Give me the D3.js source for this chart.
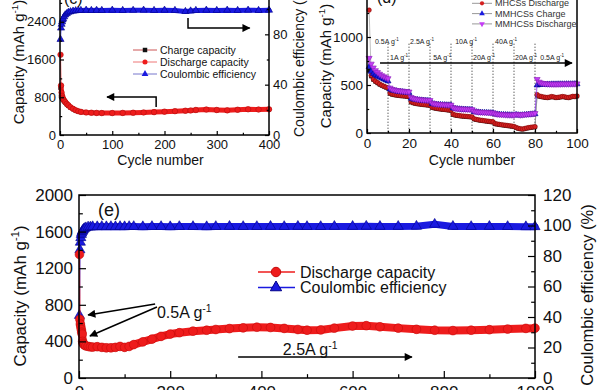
<!DOCTYPE html>
<html>
<head>
<meta charset="utf-8">
<script src="https://cdn.jsdelivr.net/npm/d3@7"></script>
<style>
  body { margin: 0; background: #fff; }
  svg { display: block; font-family: "Liberation Sans", Arial, sans-serif; }
</style>
</head>
<body>
<svg id="fig" width="600" height="390"></svg>
<script>
// ---------- panel (c): long cycling, 400 cycles
const cCycles    = [1, 2, 3, 4, 5, 6, 8, 10, 13, 16, 20, 25, 30, 35, 40, 50, 60, 70, 80, 100, 120, 140, 160, 180, 200, 220, 240, 250, 260, 280, 300, 320, 340, 360, 380, 400];
const cDischarge = [1700, 1050, 900, 830, 790, 760, 730, 700, 660, 630, 590, 555, 525, 505, 490, 478, 472, 468, 465, 465, 468, 472, 478, 485, 495, 505, 515, 520, 530, 540, 530, 522, 535, 545, 540, 545];
const cCharge    = [1000, 820, 800, 780, 760, 740, 715, 690, 650, 620, 585, 550, 520, 500, 487, 475, 470, 466, 463, 463, 466, 470, 476, 483, 493, 503, 512, 517, 528, 538, 528, 520, 533, 543, 538, 543];
const cCE        = [76, 85, 88, 90, 91.5, 92.5, 94, 95.5, 96.5, 97.5, 98, 98.5, 98.8, 99, 99, 99.2, 99, 99.1, 99, 99.2, 99, 99.1, 99.2, 99, 99.2, 99, 98.2, 98.6, 99, 99.2, 99, 99.2, 99, 99.2, 99, 99.2];

// ---------- panel (d): rate test, 100 cycles
const dCycles = d3.range(1, 101);
const dMhcsCharge = [650, 590, 555, 535, 520, 505, 494, 484, 474, 464,
  410, 400, 396, 392, 389, 386, 384, 382, 379, 376,
  320, 312, 306, 302, 299, 296, 293, 291, 288, 286,
  264, 258, 254, 250, 247, 244, 242, 239, 236, 234,
  190, 184, 180, 177, 174, 172, 170, 168, 166, 164,
  144, 138, 134, 130, 127, 124, 121, 118, 115, 112,
  94, 90, 86, 83, 80, 77, 74, 71, 68, 64,
  54, 46, 41, 38, 42, 48, 52, 56, 59, 62,
  390, 380, 376, 372, 368, 366, 371, 376, 372, 366, 368, 372, 376, 374, 368, 366, 372, 378, 376, 382];
const dMhcsDischarge = [1280, 600, 560, 540, 525, 510, 498, 488, 478, 468,
  415, 405, 400, 396, 393, 390, 388, 386, 383, 380,
  325, 316, 310, 306, 303, 300, 297, 295, 292, 290,
  268, 262, 258, 254, 251, 248, 246, 243, 240, 238,
  195, 188, 184, 181, 178, 176, 174, 172, 170, 168,
  148, 142, 138, 134, 131, 128, 125, 122, 119, 116,
  98, 94, 90, 87, 84, 81, 78, 75, 72, 68,
  58, 50, 45, 42, 46, 52, 56, 60, 63, 66,
  400, 386, 380, 376, 372, 370, 375, 380, 376, 370, 372, 376, 380, 378, 372, 370, 376, 382, 380, 386];
const dMmhcsCharge = [690, 640, 618, 602, 590, 580, 570, 560, 550, 540,
  455, 445, 440, 436, 432, 429, 427, 424, 422, 420,
  360, 352, 348, 345, 342, 340, 338, 336, 335, 333,
  305, 300, 297, 295, 293, 292, 291, 290, 289, 288,
  258, 253, 250, 248, 246, 245, 244, 243, 242, 241,
  222, 218, 215, 213, 212, 211, 210, 209, 208, 207,
  198, 194, 192, 190, 189, 188, 187, 186, 186, 185,
  190, 186, 184, 186, 188, 190, 192, 194, 196, 198,
  498, 502, 504, 505, 505, 506, 506, 507, 507, 507, 508, 508, 508, 508, 509, 509, 509, 509, 510, 510];
const dMmhcsDischarge = [780, 720, 680, 652, 632, 615, 600, 588, 578, 568,
  470, 456, 450, 445, 441, 438, 436, 433, 431, 429,
  372, 362, 356, 352, 349, 347, 345, 343, 341, 340,
  312, 306, 302, 300, 298, 297, 295, 294, 293, 292,
  266, 259, 255, 253, 251, 250, 249, 248, 247, 246,
  228, 223, 220, 218, 216, 215, 214, 213, 212, 211,
  202, 198, 195, 193, 192, 191, 190, 189, 189, 188,
  196, 192, 189, 191, 194, 196, 198, 200, 202, 205,
  560, 532, 522, 517, 514, 512, 511, 511, 510, 510, 511, 511, 512, 512, 512, 512, 513, 513, 513, 514];
const rateBorders = [10, 20, 30, 40, 50, 60, 70, 80];
const rateLabels = ["0.5A g", "1A g", "2.5A g", "5A g", "10A g", "20A g", "40A g", "20A g", "0.5A g"];
const rateLabelCycle = [3.8, 11, 20.5, 31.5, 42, 50.5, 61, 70.5, 82.5];
const rateLabelRow = [0, 1, 0, 1, 0, 1, 0, 1, 1];

// ---------- panel (e): 1000 cycles at 2.5 A/g
const eCycles = [1, 2, 3, 4, 5, 6, 7, 8, 9, 10, 12, 15, 20, 25, 30, 40, 50, 60, 70, 80, 90, 100,
  110, 120, 140, 160, 180, 200, 220, 250, 280, 300, 330, 360, 390, 420, 450, 480, 500, 530, 560,
  600, 630, 660, 700, 740, 780, 820, 860, 900, 940, 980, 1000];
const eDischarge = [1350, 640, 590, 560, 530, 500, 480, 400, 380, 370, 360, 350, 345, 340, 338,
  342, 335, 330, 330, 335, 345, 335, 345, 365, 395, 425, 455, 480, 495, 512, 522, 530, 540, 548,
  555, 552, 542, 530, 522, 525, 545, 568, 572, 560, 545, 532, 522, 518, 522, 528, 535, 542, 545];
const eCE = [41, 84, 89, 92, 94, 95, 96, 96.5, 97, 97.5, 98, 98.5, 99, 99, 99.2, 99.2, 99.3, 99.2,
  99.3, 99.2, 99.3, 99.2, 99.3, 99.3, 99.2, 99.3, 99.3, 99.2, 99.3, 99.3, 99.2, 99.3, 99.4, 99.3,
  99.3, 99.4, 99.3, 99.4, 99.3, 99.3, 99.4, 99.4, 99.5, 99.4, 99.4, 99.5, 100.8, 99.4, 99.3, 99.4,
  99.3, 99.2, 99.2];

const FONT = '"Liberation Sans", Arial, sans-serif';
const RED = "#ee1c1c", RED_D = "#b50d0d";
const BLUE = "#1a1ae0", BLUE_D = "#00008a";
const MAG = "#c43cf5";
const svg = d3.select("#fig");

// scales
const cX = d3.scaleLinear().domain([0, 400]).range([60, 269]);
const cY = d3.scaleLinear().domain([0, 3200]).range([135, -16]);
const cY2 = d3.scaleLinear().domain([0, 120]).range([135, -16]);
const dX = d3.scaleLinear().domain([0, 100]).range([367, 577]);
const dY = d3.scaleLinear().domain([0, 1500]).range([133, -11]);
const eX = d3.scaleLinear().domain([0, 1000]).range([79, 535]);
const eY = d3.scaleLinear().domain([0, 2000]).range([378, 195]);
const eY2 = d3.scaleLinear().domain([0, 120]).range([378, 195]);

// arrow head
svg.append("defs").append("marker")
  .attr("id", "head").attr("viewBox", "0 0 10 10")
  .attr("refX", 9).attr("refY", 5)
  .attr("markerUnits", "userSpaceOnUse")
  .attr("markerWidth", 11).attr("markerHeight", 8)
  .attr("orient", "auto")
  .append("path").attr("d", "M0,0 L10,5 L0,10 z").attr("fill", "#000");

function addAxis(make, tr, major, minor, len, pad, fs) {
  const g = svg.append("g").attr("transform", tr)
    .call(make().tickValues(major).tickSize(-len).tickSizeOuter(0).tickPadding(pad)
      .tickFormat(d3.format("d")));
  g.select(".domain").remove();
  g.attr("font-size", fs).attr("font-family", FONT);
  g.selectAll("line").attr("stroke", "#000").attr("stroke-width", 1.2);
  g.selectAll("text").attr("fill", "#111");
  const m = svg.append("g").attr("transform", tr)
    .call(make().tickValues(minor).tickSize(-len * 0.55).tickSizeOuter(0).tickFormat(""));
  m.select(".domain").remove();
  m.selectAll("line").attr("stroke", "#000").attr("stroke-width", 1.2);
}

function frame(x, y) {
  const [l, r] = x.range(), [b, t] = y.range();
  svg.append("rect").attr("x", l).attr("y", t).attr("width", r - l).attr("height", b - t)
    .attr("fill", "none").attr("stroke", "#000").attr("stroke-width", 1.5);
}

// text with a superscript "-1"
function supText(sel, base, sup, after, fs) {
  sel.append("tspan").text(base);
  sel.append("tspan").attr("dy", -0.4 * fs).attr("font-size", 0.65 * fs).text(sup);
  if (after) sel.append("tspan").attr("dy", 0.4 * fs).text(after);
  return sel;
}

function vTitle(x, y, fs, parts) {
  const t = svg.append("text").attr("transform", `translate(${x},${y}) rotate(-90)`)
    .attr("text-anchor", "middle").attr("dy", "0.35em")
    .attr("font-size", fs).attr("fill", "#111");
  if (parts.length === 1) t.text(parts[0]); else supText(t, parts[0], parts[1], parts[2], fs);
  return t;
}

function band(xs, ys, x, y, color, width, from) {
  const pts = d3.zip(xs, ys).slice(from || 0);
  svg.append("path").datum(pts).attr("fill", "none").attr("stroke", color)
    .attr("stroke-width", width).attr("stroke-linejoin", "round").attr("stroke-linecap", "round")
    .attr("d", d3.line().x(d => x(d[0])).y(d => y(d[1])));
}

function thinLine(xs, ys, x, y, color, w, op) {
  svg.append("path").datum(d3.zip(xs, ys)).attr("fill", "none").attr("stroke", color)
    .attr("stroke-width", w).attr("stroke-opacity", op)
    .attr("d", d3.line().x(d => x(d[0])).y(d => y(d[1])));
}

function symbols(xs, ys, x, y, type, size, fill, stroke, rot) {
  svg.append("g").selectAll("path").data(d3.zip(xs, ys)).join("path")
    .attr("transform", d => `translate(${x(d[0])},${y(d[1])})` + (rot ? " rotate(180)" : ""))
    .attr("d", d3.symbol().type(type).size(size))
    .attr("fill", fill).attr("stroke", stroke).attr("stroke-width", 0.6);
}

function arrow(pts) {
  svg.append("path").attr("d", d3.line()(pts)).attr("fill", "none")
    .attr("stroke", "#000").attr("stroke-width", 1.5).attr("marker-end", "url(#head)");
}

// ================= panel (c) =================
thinLine(cCycles, cCE, cX, cY2, BLUE, 1, 0.8);
band(cCycles, cCE, cX, cY2, BLUE, 5, 2);
symbols(cCycles, cCE, cX, cY2, d3.symbolTriangle, 22, BLUE, BLUE_D);
thinLine(cCycles, cCharge, cX, cY, "#000", 1, 0.6);
symbols(cCycles, cCharge, cX, cY, d3.symbolSquare, 14, "#111", "#000");
thinLine(cCycles, cDischarge, cX, cY, RED, 1, 0.8);
band(cCycles, cDischarge, cX, cY, RED, 5, 1);
symbols(cCycles, cDischarge, cX, cY, d3.symbolCircle, 24, RED, RED_D);

frame(cX, cY);
addAxis(() => d3.axisBottom(cX), "translate(0,135)", [0, 100, 200, 300, 400], [50, 150, 250, 350], 4, 5, 13);
addAxis(() => d3.axisLeft(cY), "translate(60,0)", [0, 800, 1600, 2400], [400, 1200, 2000, 2800], 4, 4, 13);
addAxis(() => d3.axisRight(cY2), "translate(269,0)", [0, 40, 80], [20, 60, 100], 4, 4, 13);

svg.append("text").attr("x", cX(200) - 4).attr("y", 165).attr("text-anchor", "middle")
  .attr("font-size", 14).attr("fill", "#111").text("Cycle number");
vTitle(19, 62, 15, ["Capacity (mAh g", "-1", ")"]);
svg.append("text").attr("transform", "translate(299,137) rotate(-90)").attr("dy", "0.35em")
  .attr("font-size", 14).attr("fill", "#111").text("Coulombic efficiency (%)");
svg.append("text").attr("x", 64).attr("y", 4).attr("font-size", 16).attr("fill", "#111").text("(c)");

arrow([[cX(245), cY2(93)], [cX(245), cY2(85)], [cX(363), cY2(85)]]);
arrow([[cX(184), cY(593)], [cX(184), cY(805)], [cX(90), cY(805)]]);

const cLegend = [
  { label: "Charge capacity", type: d3.symbolSquare, fill: "#111", line: "#c55" },
  { label: "Discharge capacity", type: d3.symbolCircle, fill: RED, line: "#e77" },
  { label: "Coulombic efficiency", type: d3.symbolTriangle, fill: BLUE, line: "#77c" }
];
cLegend.forEach((d, i) => {
  const y = 50 + i * 12;
  svg.append("line").attr("x1", 133).attr("x2", 157).attr("y1", y).attr("y2", y)
    .attr("stroke", d.line).attr("stroke-width", 1);
  svg.append("path").attr("transform", `translate(145,${y})`)
    .attr("d", d3.symbol().type(d.type).size(20)).attr("fill", d.fill);
  svg.append("text").attr("x", 160).attr("y", y).attr("dy", "0.35em")
    .attr("font-size", 10.5).attr("fill", "#111").text(d.label);
});

// ================= panel (d) =================
svg.append("g").selectAll("line").data(rateBorders).join("line")
  .attr("x1", d => dX(d)).attr("x2", d => dX(d)).attr("y1", dY(930)).attr("y2", dY(0))
  .attr("stroke", "#222").attr("stroke-width", 1).attr("stroke-dasharray", "1,2");

thinLine(dCycles, dMhcsCharge, dX, dY, "#444", 0.8, 0.6);
symbols(dCycles, dMhcsCharge, dX, dY, d3.symbolSquare, 12, "#111", "#000");
thinLine(dCycles, dMhcsDischarge, dX, dY, "#999", 0.8, 0.8);
symbols(dCycles, dMhcsDischarge, dX, dY, d3.symbolCircle, 16, "#d42020", "#8a0a0a");
thinLine(dCycles, dMmhcsCharge, dX, dY, BLUE, 0.8, 0.6);
symbols(dCycles, dMmhcsCharge, dX, dY, d3.symbolTriangle, 16, BLUE, BLUE_D);
thinLine(dCycles, dMmhcsDischarge, dX, dY, MAG, 0.8, 0.6);
symbols(dCycles, dMmhcsDischarge, dX, dY, d3.symbolTriangle, 16, MAG, "#8a1fb8", true);

rateLabels.forEach((lab, i) => {
  const t = svg.append("text").attr("x", dX(rateLabelCycle[i])).attr("y", rateLabelRow[i] ? 60 : 44)
    .attr("font-size", 7).attr("fill", "#222");
  supText(t, lab, "-1", null, 7);
});
arrow([[dX(6.2), dY(729)], [dX(97.6), dY(729)]]);

frame(dX, dY);
addAxis(() => d3.axisBottom(dX), "translate(0,133)", [0, 20, 40, 60, 80, 100], [10, 30, 50, 70, 90], 4, 5, 13.5);
addAxis(() => d3.axisLeft(dY), "translate(367,0)", [0, 500, 1000], [250, 750, 1250], 4, 4, 13.5);
svg.append("text").attr("x", dX(50)).attr("y", 165).attr("text-anchor", "middle")
  .attr("font-size", 14).attr("fill", "#111").text("Cycle number");
vTitle(326, 66, 15, ["Capacity (mAh g", "-1", ")"]);
svg.append("text").attr("x", 377).attr("y", 3).attr("font-size", 16).attr("fill", "#111").text("(d)");

const dLegend = [
  { label: "MHCSs Charge", type: d3.symbolSquare, fill: "#111", rot: false },
  { label: "MHCSs Discharge", type: d3.symbolCircle, fill: "#d42020", rot: false },
  { label: "MMHCSs Charge", type: d3.symbolTriangle, fill: BLUE, rot: false },
  { label: "MMHCSs Discharge", type: d3.symbolTriangle, fill: MAG, rot: true }
];
dLegend.forEach((d, i) => {
  const y = -7 + i * 10.3;
  svg.append("line").attr("x1", 472).attr("x2", 492).attr("y1", y).attr("y2", y)
    .attr("stroke", "#999").attr("stroke-width", 1);
  svg.append("path").attr("transform", `translate(482,${y})` + (d.rot ? " rotate(180)" : ""))
    .attr("d", d3.symbol().type(d.type).size(14)).attr("fill", d.fill);
  svg.append("text").attr("x", 495).attr("y", y).attr("dy", "0.35em")
    .attr("font-size", 9).attr("fill", "#333").text(d.label);
});

// ================= panel (e) =================
thinLine(eCycles, eCE, eX, eY2, BLUE, 1.2, 0.9);
band(eCycles, eCE, eX, eY2, BLUE, 7, 3);
symbols(eCycles, eCE, eX, eY2, d3.symbolTriangle, 45, BLUE, BLUE_D);
thinLine(eCycles, eDischarge, eX, eY, RED, 1.2, 0.9);
band(eCycles, eDischarge, eX, eY, RED, 8, 1);
symbols(eCycles, eDischarge, eX, eY, d3.symbolCircle, 60, RED, "#c40a0a");

frame(eX, eY);
addAxis(() => d3.axisBottom(eX), "translate(0,378)", [0, 200, 400, 600, 800, 1000], [100, 300, 500, 700, 900], 7, 8, 17);
addAxis(() => d3.axisLeft(eY), "translate(79,0)", [0, 400, 800, 1200, 1600, 2000], [200, 600, 1000, 1400, 1800], 7, 6, 17);
addAxis(() => d3.axisRight(eY2), "translate(535,0)", [0, 20, 40, 60, 80, 100, 120], [10, 30, 50, 70, 90, 110], 7, 8, 17);
vTitle(20, 296, 17, ["Capacity (mAh g", "-1", ")"]);
vTitle(587, 295, 16.5, ["Coulombic efficiency (%)"]);
svg.append("text").attr("x", 98).attr("y", 216).attr("font-size", 18).attr("fill", "#111").text("(e)");

arrow([[eX(167), eY(809)], [eX(20), eY(689)]]);
arrow([[eX(171), eY(776)], [eX(24), eY(459)]]);
supText(svg.append("text").attr("x", eX(171)).attr("y", eY(656)).attr("font-size", 16).attr("fill", "#111"),
  "0.5A g", "-1", null, 16);
arrow([[eX(349), eY(230)], [eX(730), eY(230)]]);
supText(svg.append("text").attr("x", eX(447)).attr("y", eY(251)).attr("font-size", 16).attr("fill", "#111"),
  "2.5A g", "-1", null, 16);

const eLegend = [
  { label: "Discharge capacity", type: d3.symbolCircle, fill: RED, stroke: "#c40a0a", size: 70 },
  { label: "Coulombic efficiency", type: d3.symbolTriangle, fill: BLUE, stroke: BLUE_D, size: 55 }
];
eLegend.forEach((d, i) => {
  const y = 272 + i * 15.5;
  svg.append("line").attr("x1", 258).attr("x2", 295).attr("y1", y).attr("y2", y)
    .attr("stroke", d.fill).attr("stroke-width", 1.5);
  svg.append("path").attr("transform", `translate(276,${y})`)
    .attr("d", d3.symbol().type(d.type).size(d.size)).attr("fill", d.fill).attr("stroke", d.stroke);
  svg.append("text").attr("x", 300).attr("y", y).attr("dy", "0.36em")
    .attr("font-size", 16).attr("fill", "#111").text(d.label);
});
</script>
</body>
</html>
